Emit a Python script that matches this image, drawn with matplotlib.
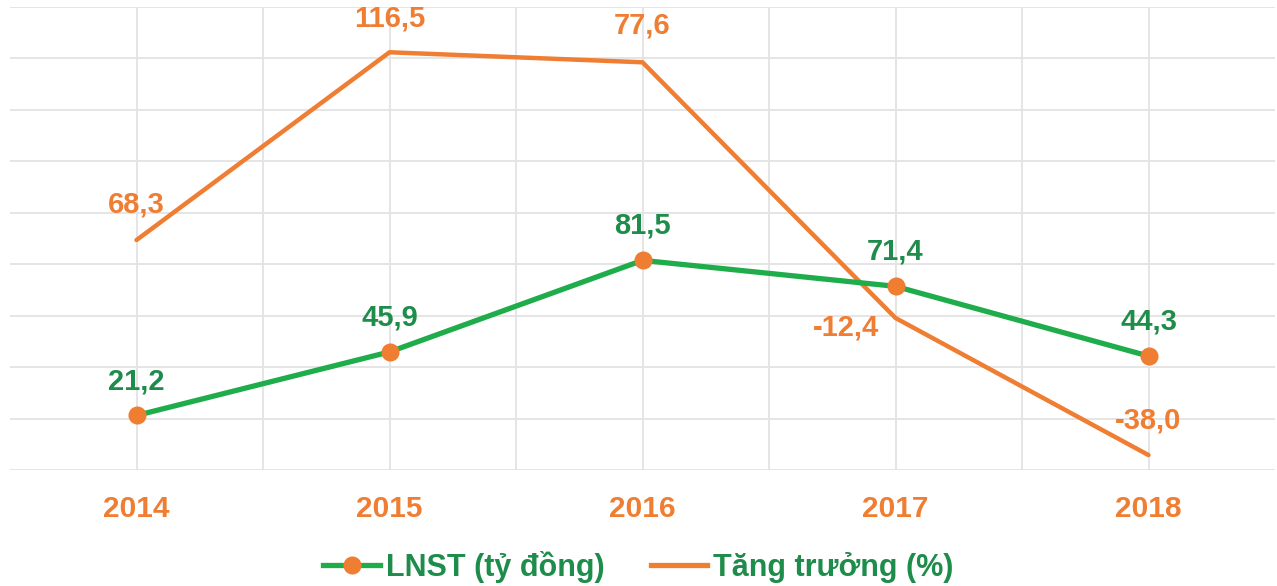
import matplotlib
matplotlib.use("Agg")
import matplotlib.pyplot as plt
from matplotlib.lines import Line2D

years = ["2014", "2015", "2016", "2017", "2018"]
lnst = [21.2, 45.9, 81.5, 71.4, 44.3]
growth_labels = [68.3, 116.5, 77.6, -12.4, -38.0]
# growth line heights as drawn in the reference (same scale as LNST axis)
growth_drawn = [89.4, 162.4, 158.5, 59.1, 5.8]

GREEN = "#1fac4b"
GREEN_TXT = "#1e8c4a"
ORANGE = "#ef7d32"
GRID = "#e3e3e3"

plt.rcParams['font.family'] = ['Liberation Sans', 'DejaVu Sans']

fig = plt.figure(figsize=(12.77, 5.86), dpi=100)
ax = fig.add_axes([10/1277, 1-470/586, 1265/1277, 463/586])
x = list(range(len(years)))

ax.set_xlim(-0.5, len(years) - 0.5)
ax.set_ylim(0, 180)
ax.set_yticks(range(0, 181, 20))
ax.set_xticks([i * 0.5 for i in range(2 * len(years) - 1)])
ax.grid(True, color=GRID, linewidth=1.3)
ax.tick_params(length=0, labelbottom=False, labelleft=False)
for s in ax.spines.values():
    s.set_visible(False)

ax.plot(x, growth_drawn, color=ORANGE, linewidth=3.2, zorder=3, solid_capstyle='round')
ax.plot(x, lnst, color=GREEN, linewidth=3.8, zorder=4,
        marker='o', markersize=12, markerfacecolor=ORANGE, markeredgecolor=ORANGE)

fmt = lambda v: f"{v:.1f}".replace(".", ",")

FS = 21
# LNST labels above points
for i, v in enumerate(lnst):
    ax.annotate(fmt(v), (i, v), xytext=(0, 19), textcoords='offset points',
                ha='center', va='baseline', color=GREEN_TXT, fontsize=FS, fontweight='bold')

# growth labels
offsets = [(0, 19.5), (0, 18.5), (0, 21), (-36, -7), (0, 19)]
for i, (lab, v) in enumerate(zip(growth_labels, growth_drawn)):
    dx, dy = offsets[i]
    va = 'center' if i == 3 else 'baseline'
    ax.annotate(fmt(lab), (i, v), xytext=(dx, dy), textcoords='offset points',
                ha='center', va=va, color=ORANGE, fontsize=FS, fontweight='bold')

# category labels
for i, y in enumerate(years):
    ax.text(i, -9.8, y, ha='center', va='top', color=ORANGE, fontsize=21.5,
            fontweight='bold', clip_on=False)

handles = [
    Line2D([0], [0], color=GREEN, linewidth=3.8, marker='o', markersize=12,
           markerfacecolor=ORANGE, markeredgecolor=ORANGE),
    Line2D([0], [0], color=ORANGE, linewidth=3.8),
]
leg = fig.legend(handles, ["LNST (tỷ đồng)", "Tăng trưởng (%)"],
                 loc='center', bbox_to_anchor=(0.5, 1 - 567/586), ncol=2,
                 frameon=False, fontsize=22, handlelength=1.85, handletextpad=0.2,
                 columnspacing=1.5)
for t in leg.get_texts():
    t.set_color(GREEN_TXT)
    t.set_fontweight('bold')

fig.savefig("out.png", dpi=100)
